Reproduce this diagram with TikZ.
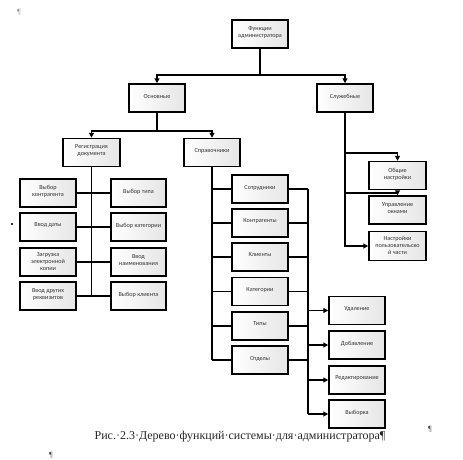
\documentclass[tikz,border=0pt]{standalone}
\usepackage{fontspec}
\setmainfont{Carlito}
\newfontfamily\capfont{Liberation Serif}
\usetikzlibrary{arrows.meta}
\begin{document}
\begin{tikzpicture}[x=1pt,y=-1pt,
  box/.style={draw=black,line width=1.5pt,left color=white,right color=black!10,
    minimum width=56pt,minimum height=28pt,inner sep=1pt,align=center,text depth=4pt,
    font=\fontsize{6.2}{7}\selectfont,text=black!80},
  conn/.style={line width=1.2pt,draw=black},
  arr/.style={conn,-{Triangle[length=5pt,width=5pt]}},
  pmark/.style={inner sep=0pt,text=black!70,font=\capfont\fontsize{8}{9}\selectfont}]
\useasboundingbox (0,0) rectangle (463,460);
% level 0-1
\node[box] (top) at (260,34) {Функции\\администратора};
\node[box] (osn) at (157,98) {Основные};
\node[box] (slu) at (345,98) {Служебные};
% level 2
\node[box,minimum width=57pt] (reg) at (91.5,152.5) {Регистрация\\документа};
\node[box] (spr) at (212,152.5) {Справочники};
% registration children
\node[box] (l1) at (48,193) {Выбор\\контрагента};
\node[box] (l2) at (48,227) {Ввод даты};
\node[box,text depth=2pt] (l3) at (48,262) {Загрузка\\электронной\\копии};
\node[box] (l4) at (48,296) {Ввод других\\реквизитов};
\node[box,minimum width=55pt] (r1) at (138.5,193) {Выбор типа};
\node[box,minimum width=55pt] (r2) at (138.5,227) {Выбор категории};
\node[box,minimum width=55pt] (r3) at (138.5,262) {Ввод\\наименования};
\node[box,minimum width=55pt] (r4) at (138.5,296) {Выбор клиента};
% directories children
\node[box] (s1) at (260,189) {Сотрудники};
\node[box] (s2) at (260,223) {Контрагенты};
\node[box] (s3) at (260,257) {Клиенты};
\node[box] (s4) at (260,291.5) {Категории};
\node[box] (s5) at (260,326) {Типы};
\node[box] (s6) at (260,360) {Отделы};
% operations
\node[box] (o1) at (357,310.5) {Удаление};
\node[box] (o2) at (357,345) {Добавление};
\node[box] (o3) at (357,380) {Редактирование};
\node[box] (o4) at (357,414) {Выборка};
% service children
\node[box,minimum width=57pt] (g1) at (397.5,175.5) {Общие\\настройки};
\node[box,minimum width=57pt] (g2) at (397.5,210) {Управление\\окнами};
\node[box,minimum width=57pt,minimum height=29pt,text depth=2pt] (g3) at (397.5,246) {Настройки\\пользовательско\\й части};
% junctions
\coordinate (j1) at (260,75);
\coordinate (j2) at (157,131);
\coordinate (bx) at (308,0);
\coordinate (k1) at (345,153);
\coordinate (k2) at (345,193);
% top connectors
\draw[conn] (top.south) -- (j1);
\draw[arr] (j1) -| (osn);
\draw[arr] (j1) -| (slu);
\draw[conn] (osn.south) -- (j2);
\draw[arr] (j2) -| (reg);
\draw[arr] (j2) -| (spr);
% registration
\draw[conn] (reg.south) -- (reg.south |- l4.east);
\draw[conn] (l1.east) -- (r1.west);
\draw[conn] (l2.east) -- (r2.west);
\draw[conn] (l3.east) -- (r3.west);
\draw[conn] (l4.east) -- (r4.west);
% directories
\draw[conn] (spr.south) -- (spr.south |- s6.west);
\foreach \s in {s1,s2,s3,s4,s5,s6}{
  \draw[conn] (spr.south |- \s.west) -- (\s.west);
  \draw[conn] (\s.east) -- (\s.east -| bx);
}
\draw[conn] (s1.east -| bx) -- (o4.west -| bx);
\foreach \o in {o1,o2,o3,o4}{
  \draw[arr] (\o.west -| bx) -- (\o.west);
}
% service
\draw[arr] (slu.south) |- (g3.west);
\draw[arr] (k1) -| (g1);
\draw[arr] (k2) -| (g2);
% caption and marks
\node[inner sep=0pt,font=\capfont\fontsize{12}{14}\selectfont,text=black!85] (cap) at (240,437)
  {Рис.·2.3·Дерево·функций·системы·для·администратора¶};
\node[pmark,text=black!40] (m1) at (19,12) {¶};
\node[inner sep=0pt,fill=black!80,minimum size=2.5pt] (m2) at (12,224) {};
\node[pmark] (m3) at (430,429) {¶};
\node[pmark] (m4) at (51,455) {¶};
\end{tikzpicture}
\end{document}
